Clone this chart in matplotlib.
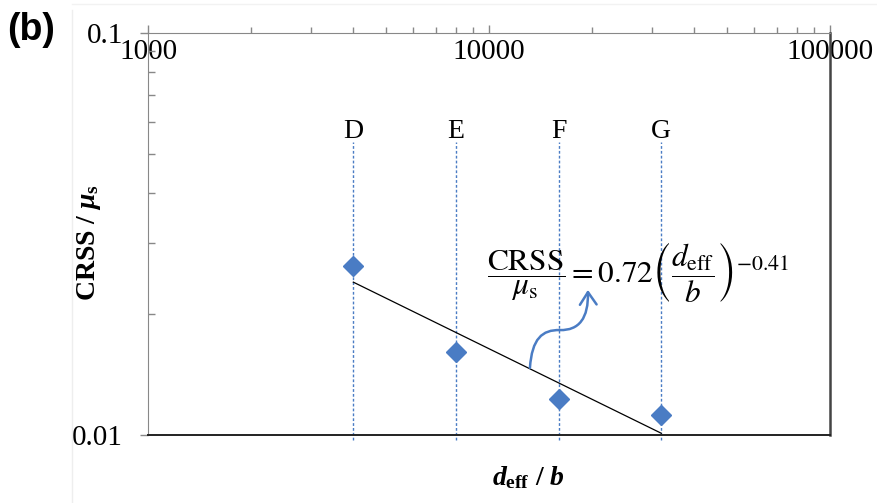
import matplotlib.pyplot as plt
from matplotlib.patches import FancyArrowPatch
from matplotlib.path import Path
from matplotlib.lines import Line2D

# Data
labels = ["D", "E", "F", "G"]
d_eff_b = [4000, 8000, 16000, 32000]
crss_mu = [0.0263, 0.0161, 0.0123, 0.0112]

# Power-law fit line (end points)
fit_x = [4000, 32000]
fit_y = [0.0240, 0.0101]

x_ticks = [1000, 10000, 100000]
x_tick_labels = ["1000", "10000", "100000"]
y_ticks = [0.01, 0.1]
y_tick_labels = ["0.01", "0.1"]

blue = "#4a7cc4"
serif = "Liberation Serif"

plt.rcParams["mathtext.fontset"] = "custom"
plt.rcParams["mathtext.rm"] = "Liberation Serif:bold"
plt.rcParams["mathtext.it"] = "Liberation Serif:italic:bold"
plt.rcParams["mathtext.bf"] = "Liberation Serif:bold"

fig = plt.figure(figsize=(8.77, 5.03), dpi=100)
ax = fig.add_axes([0.1688, 0.1352, 0.7776, 0.7992])
ax.set_xscale("log")
ax.set_yscale("log")
ax.set_xlim(1000, 100000)
ax.set_ylim(0.01, 0.1)

# Vertical dashed guide lines and sample labels
for lab, x in zip(labels, d_eff_b):
    ax.plot([x, x], [0.0097, 0.0536], color=blue, lw=1.0,
            ls=(0, (2, 1.5)), clip_on=False, zorder=1)
    ax.text(x, 0.0548, lab, ha="center", va="baseline",
            fontsize=20, family=serif)

# Fit line and data points
ax.plot(fit_x, fit_y, color="black", lw=0.9, zorder=2)
ax.plot(d_eff_b, crss_mu, ls="none", marker="D", ms=10,
        color=blue, mec=blue, zorder=3)

# Equation
eq = ax.text(0.497, 0.405,
             r"$\dfrac{\mathrm{CRSS}}{\mu_{\mathrm{s}}} = 0.72\left(\dfrac{d_{\mathrm{eff}}}{b}\right)^{-0.41}$",
             transform=ax.transAxes, ha="left", va="center", fontsize=22.5)
eq.set_math_fontfamily("stix")

# Curved arrow from line to equation
verts = [(0.560, 0.167), (0.563, 0.240), (0.578, 0.262), (0.604, 0.261),
         (0.632, 0.260), (0.646, 0.290), (0.645, 0.361)]
codes = [Path.MOVETO, Path.CURVE4, Path.CURVE4, Path.CURVE4,
         Path.CURVE4, Path.CURVE4, Path.CURVE4]
arrow = FancyArrowPatch(path=Path(verts, codes), transform=ax.transAxes,
                        arrowstyle="->,head_length=9,head_width=6",
                        color=blue, lw=1.8, zorder=4)
ax.add_patch(arrow)

# Axes styling
ax.xaxis.set_ticks_position("top")
ax.set_xticks(x_ticks)
ax.set_xticklabels(x_tick_labels, family=serif, fontsize=21)
ax.set_yticks(y_ticks)
ax.set_yticklabels(y_tick_labels, family=serif, fontsize=21)
ax.tick_params(axis="x", which="major", direction="out", length=6,
               width=1, color="#888888", pad=-29)
ax.tick_params(axis="x", which="minor", direction="out", length=4,
               width=1, color="#888888")
ax.tick_params(axis="y", which="major", direction="out", length=6,
               width=1, color="#888888", pad=12)
ax.tick_params(axis="y", which="minor", direction="in", length=5,
               width=1, color="#888888", labelleft=False)
ax.xaxis.set_minor_formatter(plt.NullFormatter())
ax.yaxis.set_minor_formatter(plt.NullFormatter())

ax.spines["top"].set_color("#888888")
ax.spines["left"].set_color("#888888")
ax.spines["right"].set_color("#444444")
ax.spines["right"].set_linewidth(1.8)
ax.spines["bottom"].set_color("#222222")
ax.spines["bottom"].set_linewidth(1.4)

# Axis titles
ax.set_ylabel(r"CRSS / $\mu_{\mathrm{s}}$", family=serif, fontweight="bold",
              fontsize=20)
ax.yaxis.set_label_coords(-0.066, 0.48)
fig.text(0.602, 0.05, r"$d_{\mathrm{eff}}$ / $b$", ha="center", va="center",
         family=serif, fontweight="bold", fontsize=20)

# Panel label and faint image border
fig.text(0.008, 0.94, "(b)", family="Liberation Sans", fontweight="bold",
         fontsize=27, ha="left", va="center")
fig.add_artist(Line2D([0.082, 0.082], [0.0, 0.98], color="#eeeeee", lw=1))
fig.add_artist(Line2D([0.082, 1.0], [0.993, 0.993], color="#f2f2f2", lw=1))

fig.savefig("out.png", dpi=100)
